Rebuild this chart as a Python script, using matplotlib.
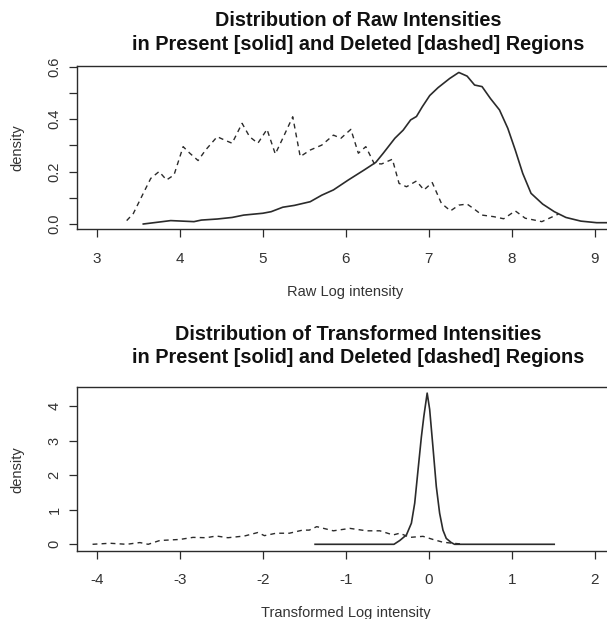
import numpy as np
import matplotlib
matplotlib.use("Agg")
import matplotlib.pyplot as plt

plt.rcParams['font.family'] = ['Liberation Sans', 'DejaVu Sans']
plt.rcParams['axes.unicode_minus'] = False

# Datos
raw_present_x = [3.56, 3.79, 3.89, 4.03, 4.17, 4.26, 4.45, 4.63, 4.77, 5.0, 5.1, 5.24, 5.38, 5.57,
                 5.71, 5.85, 6.03, 6.22, 6.36, 6.45, 6.59, 6.69, 6.78, 6.85, 6.92, 7.01, 7.11, 7.25,
                 7.36, 7.46, 7.55, 7.64, 7.74, 7.85, 7.95, 8.04, 8.13, 8.23, 8.37, 8.51, 8.65, 8.83,
                 9.02, 9.2]
raw_present_y = [0.0, 0.009, 0.013, 0.011, 0.009, 0.015, 0.019, 0.025, 0.034, 0.041, 0.047, 0.064,
                 0.071, 0.085, 0.11, 0.13, 0.168, 0.206, 0.235, 0.27, 0.327, 0.358, 0.397, 0.41,
                 0.447, 0.49, 0.52, 0.555, 0.578, 0.564, 0.53, 0.524, 0.479, 0.435, 0.365, 0.282,
                 0.193, 0.117, 0.076, 0.047, 0.025, 0.011, 0.005, 0.005]

raw_deleted_x = [3.36, 3.44, 3.56, 3.65, 3.75, 3.84, 3.93, 4.04, 4.12, 4.22, 4.31, 4.45, 4.54, 4.63,
                 4.75, 4.84, 4.94, 5.05, 5.15, 5.24, 5.36, 5.45, 5.57, 5.71, 5.85, 5.94, 6.06, 6.15,
                 6.24, 6.34, 6.43, 6.56, 6.64, 6.73, 6.85, 6.94, 7.04, 7.15, 7.26, 7.36, 7.46, 7.55,
                 7.64, 7.78, 7.9, 8.04, 8.16, 8.27, 8.36, 8.56]
raw_deleted_y = [0.013, 0.04, 0.117, 0.174, 0.2, 0.168, 0.187, 0.295, 0.27, 0.242, 0.282, 0.333,
                 0.32, 0.308, 0.384, 0.333, 0.308, 0.361, 0.267, 0.327, 0.409, 0.257, 0.282, 0.301,
                 0.339, 0.327, 0.361, 0.27, 0.295, 0.231, 0.229, 0.247, 0.155, 0.142, 0.164, 0.13,
                 0.158, 0.079, 0.05, 0.072, 0.076, 0.056, 0.034, 0.028, 0.02, 0.05, 0.022, 0.015,
                 0.009, 0.038]

tr_present_x = [-1.37, -0.42, -0.35, -0.27, -0.21, -0.17, -0.13, -0.09, -0.06, -0.02, 0.01, 0.05,
                0.09, 0.13, 0.17, 0.21, 0.27, 0.31, 1.51]
tr_present_y = [0, 0, 0.11, 0.27, 0.61, 1.19, 2.15, 3.1, 3.7, 4.37, 3.9, 2.8, 1.67, 0.9, 0.41,
                0.17, 0.05, 0, 0]

tr_deleted_x = [-4.05, -3.84, -3.64, -3.48, -3.38, -3.24, -3.0, -2.84, -2.68, -2.56, -2.42, -2.22,
                -2.06, -1.98, -1.84, -1.68, -1.52, -1.44, -1.35, -1.15, -0.95, -0.75, -0.59, -0.43,
                -0.35, -0.23, -0.07, 0.05, 0.17, 0.29, 0.39]
tr_deleted_y = [0, 0.03, 0, 0.05, 0.0, 0.11, 0.14, 0.2, 0.19, 0.24, 0.19, 0.24, 0.34, 0.25, 0.32,
                0.32, 0.41, 0.41, 0.51, 0.39, 0.46, 0.39, 0.39, 0.27, 0.32, 0.2, 0.23, 0.14, 0.06,
                0.03, 0.01]

raw_xticks = [3, 4, 5, 6, 7, 8, 9]
raw_yticks = [0.0, 0.1, 0.2, 0.3, 0.4, 0.5, 0.6]
raw_ylabels = ['0.0', '', '0.2', '', '0.4', '', '0.6']
tr_xticks = [-4, -3, -2, -1, 0, 1, 2]
tr_yticks = [0, 1, 2, 3, 4]

W, H = 607, 619
col = '#2b2b2b'

fig = plt.figure(figsize=(W / 100, H / 100), dpi=100)


def caja(left, top, right, bottom):
    return fig.add_axes([left / W, 1 - bottom / H, (right - left) / W, (bottom - top) / H])


def estilo(ax):
    ax.spines['right'].set_visible(False)
    for s in ['top', 'left', 'bottom']:
        ax.spines[s].set_color(col)
        ax.spines[s].set_linewidth(1.0)
    ax.tick_params(axis='both', direction='out', length=6, width=0.9, color=col, labelcolor='#333333')
    ax.tick_params(axis='x', labelsize=11, pad=10)
    ax.tick_params(axis='y', labelsize=10.5, pad=5)
    for lab in ax.get_yticklabels():
        lab.set_rotation(90)
        lab.set_va('center')
        lab.set_ha('right')


# Panel superior
ax1 = caja(76.7, 66, 612, 229.3)
ax1.plot(raw_present_x, raw_present_y, '-', color=col, lw=1.2)
ax1.plot(raw_deleted_x, raw_deleted_y, '--', color=col, lw=1.0, dashes=(3.5, 3))
ax1.set_xlim(2.758, 2.758 + (612 - 76.7) / 83.03)
ax1.set_ylim(-0.0202, 0.6026)
ax1.set_xticks(raw_xticks)
ax1.set_yticks(raw_yticks)
ax1.set_yticklabels(raw_ylabels)
estilo(ax1)

# Panel inferior
ax2 = caja(76.7, 387.3, 612, 550.7)
ax2.plot(tr_present_x, tr_present_y, '-', color=col, lw=1.2)
ax2.plot(tr_deleted_x, tr_deleted_y, '--', color=col, lw=1.0, dashes=(3.5, 3))
ax2.set_xlim(-4.241, -4.241 + (612 - 76.7) / 83.03)
ax2.set_ylim(-0.185, 4.538)
ax2.set_xticks(tr_xticks)
ax2.set_yticks(tr_yticks)
estilo(ax2)

# Textos
tfont = dict(fontsize=14.3, fontweight='bold', color='#111111', ha='center', va='center')
fig.text(358 / W, 1 - 20.7 / H, 'Distribution of Raw Intensities', **tfont)
fig.text(358 / W, 1 - 45 / H, 'in Present [solid] and Deleted [dashed] Regions', **tfont)
fig.text(358 / W, 1 - 335 / H, 'Distribution of Transformed Intensities', **tfont)
fig.text(358 / W, 1 - 357.3 / H, 'in Present [solid] and Deleted [dashed] Regions', **tfont)

lfont = dict(fontsize=10.5, color='#333333', ha='center', va='center')
fig.text(345.5 / W, 1 - 292 / H, 'Raw Log intensity', **lfont)
fig.text(345.5 / W, 1 - 612.7 / H, 'Transformed Log intensity', **lfont)
fig.text(17 / W, 1 - 148 / H, 'density', rotation=90, **lfont)
fig.text(17 / W, 1 - 470 / H, 'density', rotation=90, **lfont)

fig.savefig('out.png', dpi=100)
